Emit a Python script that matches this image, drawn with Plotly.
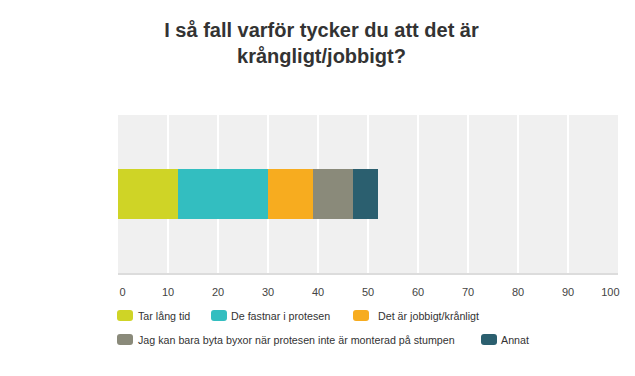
import plotly.graph_objects as go

title_text = "I så fall varför tycker du att det är<br>krångligt/jobbigt?"
categories = ["Tar lång tid", "De fastnar i protesen", "Det är jobbigt/krånligt",
              "Jag kan bara byta byxor när protesen inte är monterad på stumpen", "Annat"]
values = [12, 18, 9, 8, 5]
tick_vals = [0, 10, 20, 30, 40, 50, 60, 70, 80, 90, 100]
tick_text = ["0", "10", "20", "30", "40", "50", "60", "70", "80", "90", "100"]
colors = ["#cfd426", "#33bec0", "#f7ac1f", "#8a8a7a", "#2b5f6f"]

W, H = 635, 376
OFF = 8  # page offset of the figure
L, R, T, B = 118 - OFF, 635 - 618 + OFF, 115 - OFF, 376 - 273 + OFF
pw, ph = W - L - R, H - T - B

fig = go.Figure()
for name, v, c in zip(categories, values, colors):
    fig.add_trace(go.Bar(y=["q"], x=[v], name=name, orientation="h",
                         marker=dict(color=c, line=dict(width=0)), showlegend=False))

# end labels are kept inside the plot edges
NB = "\u00a0"
shown_ticks = list(tick_text)
shown_ticks[0] = NB * 3 + shown_ticks[0]
shown_ticks[-1] = shown_ticks[-1] + NB * 5

# manual legend layout (page pixel positions)
swatch_x = [117, 211, 353, 117, 481]
text_x = [136, 229, 376, 136, 499]
row_y = [315.5, 339.5]
rows = [0, 0, 0, 1, 1]

def px_x(p):
    return (p - OFF - L) / pw

def px_y(p):
    return (H - B - (p - OFF)) / ph

shapes = []
annotations = []
for i, (name, c) in enumerate(zip(categories, colors)):
    yc = row_y[rows[i]]
    w, h, r = 16, 11, 3
    path = (f"M {r},0 L {w-r},0 Q {w},0 {w},{r} L {w},{h-r} Q {w},{h} {w-r},{h} "
            f"L {r},{h} Q 0,{h} 0,{h-r} L 0,{r} Q 0,0 {r},0 Z")
    shapes.append(dict(type="path", xref="paper", yref="paper",
                       xsizemode="pixel", ysizemode="pixel",
                       xanchor=px_x(swatch_x[i]), yanchor=px_y(yc + h / 2),
                       path=path, fillcolor=c, line=dict(width=0)))
    annotations.append(dict(text=name, xref="paper", yref="paper",
                            x=px_x(text_x[i]), y=px_y(yc), xanchor="left", yanchor="middle",
                            showarrow=False, font=dict(size=10.7, color="#333333")))

fig.update_layout(
    template="none",
    width=W, height=H,
    margin=dict(l=L, r=R, t=T, b=B, autoexpand=False),
    paper_bgcolor="white", plot_bgcolor="#f0f0f0",
    font=dict(family="Liberation Sans, Arial, sans-serif", color="#333333"),
    title=dict(text=title_text, x=(321.5 - OFF) / W, xref="container", xanchor="center",
               y=1 - 29 / H, yref="container", yanchor="top",
               font=dict(size=20, color="#333333", family="Liberation Sans, Arial, sans-serif", weight="bold")),
    barmode="stack", bargap=0.684,
    xaxis=dict(range=[0, 100], tickvals=tick_vals, ticktext=shown_ticks,
               showgrid=True, gridcolor="white", gridwidth=2,
               zeroline=False, showline=True, linecolor="#dcdcdc", linewidth=2,
               ticks="outside", ticklen=8, tickcolor="rgba(0,0,0,0)",
               tickfont=dict(size=11, color="#444444"), fixedrange=True),
    yaxis=dict(showticklabels=False, showgrid=False, zeroline=False, fixedrange=True),
    shapes=shapes, annotations=annotations,
)

fig.write_html("out.html")
